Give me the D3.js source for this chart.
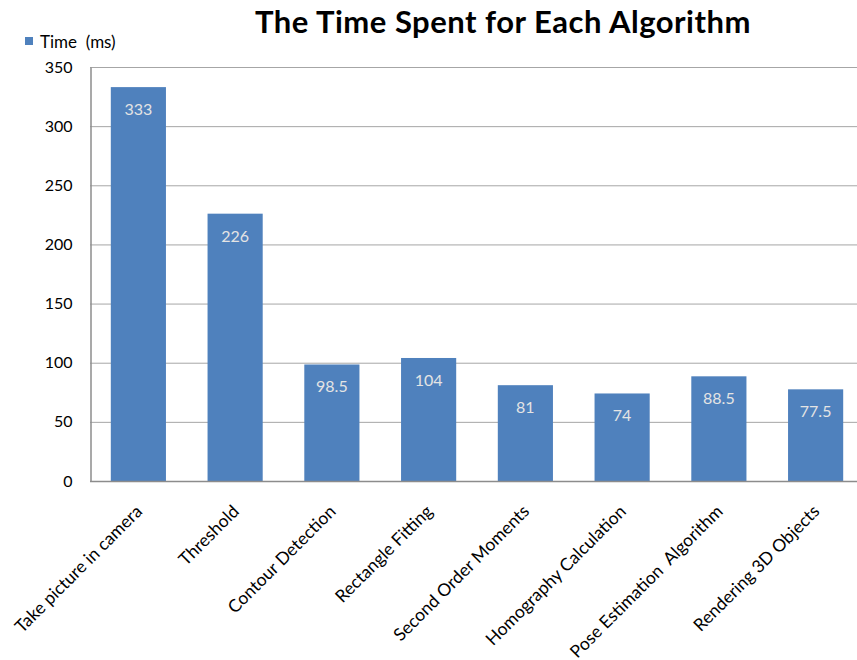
<!DOCTYPE html>
<html>
<head>
<meta charset="utf-8">
<script src="https://cdn.jsdelivr.net/npm/d3@7"></script>
<style>
  html, body { margin: 0; padding: 0; background: #fff; }
  svg { display: block; }
  text { font-family: Lato, "Open Sans", sans-serif; }
</style>
</head>
<body>
<svg id="chart" width="857" height="660"></svg>
<script>
const categories = [
  "Take picture in camera",
  "Threshold",
  "Contour Detection",
  "Rectangle Fitting",
  "Second Order Moments",
  "Homography Calculation",
  "Pose Estimation  Algorithm",
  "Rendering 3D Objects"
];
const timeMs = [333, 226, 98.5, 104, 81, 74, 88.5, 77.5];
const yTicks = [0, 50, 100, 150, 200, 250, 300, 350];
const seriesName = "Time  (ms)";
const chartTitle = "The Time Spent for Each Algorithm";

const svg = d3.select("#chart");
const margin = { left: 90, top: 67, bottom: 481, right: 864 };

const x = d3.scaleBand()
  .domain(categories)
  .range([margin.left, margin.right])
  .paddingInner(0.43)
  .paddingOuter(0.215);

const y = d3.scaleLinear()
  .domain([0, 350])
  .range([margin.bottom, margin.top]);

// Title
svg.append("text")
  .attr("x", 503)
  .attr("y", 33)
  .attr("text-anchor", "middle")
  .style("font-weight", "bold")
  .style("font-size", "31px")
  .style("letter-spacing", "0.5px")
  .attr("fill", "#000")
  .text(chartTitle);

// Legend
svg.append("rect").attr("x", 25).attr("y", 37).attr("width", 8).attr("height", 8).attr("fill", "#4f81bd");
svg.append("text").attr("x", 40).attr("y", 48)
  .style("font-size", "17px").style("white-space", "pre")
  .attr("fill", "#000").text(seriesName);

// Gridlines
svg.append("g")
  .selectAll("line")
  .data(yTicks)
  .join("line")
  .attr("x1", margin.left)
  .attr("x2", 857)
  .attr("y1", d => y(d) + 0.5)
  .attr("y2", d => y(d) + 0.5)
  .attr("stroke", "#a6a6a6")
  .attr("stroke-width", 1);

// Bars
svg.append("g")
  .selectAll("rect")
  .data(timeMs)
  .join("rect")
  .attr("x", (d, i) => x(categories[i]))
  .attr("y", d => y(d))
  .attr("width", x.bandwidth())
  .attr("height", d => y(0) - y(d))
  .attr("fill", "#4f81bd");

// Value labels inside bars
svg.append("g")
  .selectAll("text")
  .data(timeMs)
  .join("text")
  .attr("x", (d, i) => x(categories[i]) + x.bandwidth() / 2)
  .attr("y", d => y(d) + 28)
  .attr("text-anchor", "middle")
  .style("font-size", "16px")
  .attr("fill", "#e4e4e4")
  .text(d => d);

// Y axis
const yAxis = d3.axisLeft(y).tickValues(yTicks).tickSize(0).tickPadding(18);
const gy = svg.append("g")
  .attr("transform", `translate(${margin.left + 0.5},0)`)
  .call(yAxis);
gy.select(".domain").attr("stroke", "#8c8c8c").attr("stroke-width", 1.5);
gy.selectAll("text").style("font-size", "16px").attr("fill", "#000").attr("font-family", "Lato, sans-serif");

// X axis
const xAxis = d3.axisBottom(x).tickSize(0).tickPadding(0);
const gx = svg.append("g")
  .attr("transform", `translate(0,${margin.bottom + 0.5})`)
  .call(xAxis);
gx.select(".domain").remove();
svg.append("line")
  .attr("x1", margin.left).attr("x2", 857)
  .attr("y1", margin.bottom + 0.5).attr("y2", margin.bottom + 0.5)
  .attr("stroke", "#8c8c8c").attr("stroke-width", 1.5);
gx.selectAll("text")
  .attr("text-anchor", "end")
  .attr("dy", null)
  .attr("y", 0)
  .style("white-space", "pre")
  .attr("transform", "translate(5,31) rotate(-45)")
  .style("font-size", "17.5px")
  .attr("fill", "#000")
  .attr("font-family", "Lato, sans-serif");
</script>
</body>
</html>
